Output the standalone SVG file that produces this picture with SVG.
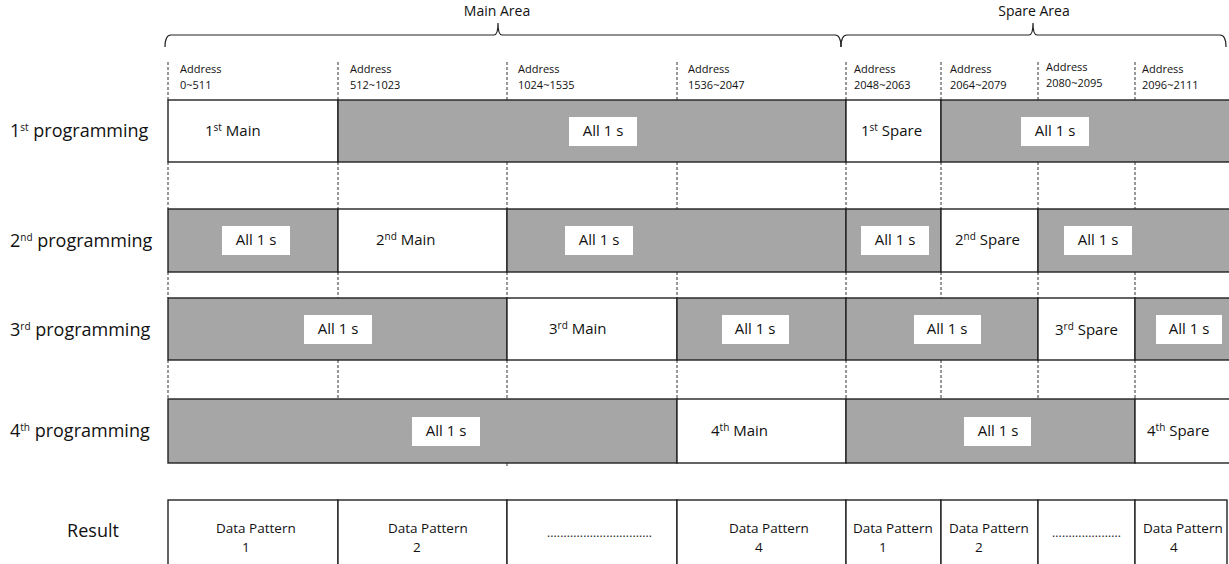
<svg xmlns="http://www.w3.org/2000/svg" width="1229" height="564" viewBox="0 0 1229 564">
<style>
text{font-family:"Open Sans","Noto Sans","Liberation Sans",sans-serif;fill:#111}
.hdr{font-size:14px}
.addr{font-size:11px}
.lbl{font-size:18px}
.cell{font-size:15px}
.res{font-size:13.5px}
.g{fill:#a6a6a6;stroke:#222;stroke-width:1.4}
.w{fill:#fff;stroke:#222;stroke-width:1.4}
.tag{fill:#fff}
.dash{stroke:#333;stroke-width:1;stroke-dasharray:3 2;fill:none}
.brace{fill:none;stroke:#222;stroke-width:1.2}
.sup{font-size:10px}
.dots{font-size:12px;fill:#222}
</style>
<rect width="1229" height="564" fill="#fff"/>

<g id="braces">
<path class="brace" d="M165,47 Q165,35 171,35 L494,35 Q498,35 498,23 Q498,35 502,35 L835,35 Q841,35 841,47"/>
<path class="brace" d="M841,47 Q841,35 847,35 L1029,35 Q1033,35 1033,23 Q1033,35 1037,35 L1220,35 Q1226,35 1226,47"/>
<text class="hdr" x="497" y="16" text-anchor="middle">Main Area</text>
<text class="hdr" x="1034" y="16" text-anchor="middle">Spare Area</text>
</g>

<g id="addresses" class="addr">
<text x="180" y="73">Address</text><text x="180" y="89">0~511</text>
<text x="350" y="73">Address</text><text x="350" y="89">512~1023</text>
<text x="518" y="73">Address</text><text x="518" y="89">1024~1535</text>
<text x="688" y="73">Address</text><text x="688" y="89">1536~2047</text>
<text x="854" y="73">Address</text><text x="854" y="89">2048~2063</text>
<text x="950" y="73">Address</text><text x="950" y="89">2064~2079</text>
<text x="1046" y="71">Address</text><text x="1046" y="87">2080~2095</text>
<text x="1142" y="73">Address</text><text x="1142" y="89">2096~2111</text>
</g>

<g id="connectors">
<g class="dash">
<path d="M168,62V100 M338,62V100 M507,62V100 M677,62V100 M846,62V100 M941,62V100 M1038,62V100 M1135,62V100"/>
<path d="M168,162V209 M338,162V209 M507,162V209 M677,162V209 M846,162V209 M941,162V209 M1038,162V209 M1135,162V209"/>
<path d="M168,272V298 M338,272V298 M507,272V298 M677,272V298 M846,272V298 M941,272V298 M1038,272V298 M1135,272V298"/>
<path d="M168,360V399 M338,360V399 M507,360V399 M677,360V399 M846,360V399 M941,360V399 M1038,360V399 M1135,360V399"/>
<path d="M507,463V468"/>
</g>
</g>

<g id="row-labels" class="lbl">
<text x="10" y="137">1<tspan class="sup" dy="-6">st</tspan><tspan dy="6"> programming</tspan></text>
<text x="10" y="247">2<tspan class="sup" dy="-6">nd</tspan><tspan dy="6"> programming</tspan></text>
<text x="10" y="336">3<tspan class="sup" dy="-6">rd</tspan><tspan dy="6"> programming</tspan></text>
<text x="10" y="437">4<tspan class="sup" dy="-6">th</tspan><tspan dy="6"> programming</tspan></text>
<text x="93" y="537" text-anchor="middle">Result</text>
</g>

<g id="row1" class="cell">
<g id="r1-main1"><rect class="w" x="168" y="100" width="170" height="62"/><text x="205" y="136">1<tspan class="sup" dy="-5">st</tspan><tspan dy="5"> Main</tspan></text></g>
<g id="r1-ones-a"><rect class="g" x="338" y="100" width="508" height="62"/><rect class="tag" x="569" y="117" width="68" height="29"/><text x="603" y="136" text-anchor="middle">All 1 s</text></g>
<g id="r1-spare1"><rect class="w" x="846" y="100" width="95" height="62"/><text x="861" y="136">1<tspan class="sup" dy="-5">st</tspan><tspan dy="5"> Spare</tspan></text></g>
<g id="r1-ones-b"><rect class="g" x="941" y="100" width="292" height="62"/><rect class="tag" x="1021" y="117" width="68" height="29"/><text x="1055" y="136" text-anchor="middle">All 1 s</text></g>
</g>

<g id="row2" class="cell">
<g id="r2-ones-a"><rect class="g" x="168" y="209" width="170" height="63"/><rect class="tag" x="222" y="226" width="68" height="29"/><text x="256" y="245" text-anchor="middle">All 1 s</text></g>
<g id="r2-main2"><rect class="w" x="338" y="209" width="169" height="63"/><text x="376" y="245">2<tspan class="sup" dy="-5">nd</tspan><tspan dy="5"> Main</tspan></text></g>
<g id="r2-ones-b"><rect class="g" x="507" y="209" width="339" height="63"/><rect class="tag" x="565" y="226" width="68" height="29"/><text x="599" y="245" text-anchor="middle">All 1 s</text></g>
<g id="r2-ones-c"><rect class="g" x="846" y="209" width="95" height="63"/><rect class="tag" x="861" y="226" width="68" height="29"/><text x="895" y="245" text-anchor="middle">All 1 s</text></g>
<g id="r2-spare2"><rect class="w" x="941" y="209" width="97" height="63"/><text x="955" y="245">2<tspan class="sup" dy="-5">nd</tspan><tspan dy="5"> Spare</tspan></text></g>
<g id="r2-ones-d"><rect class="g" x="1038" y="209" width="195" height="63"/><rect class="tag" x="1064" y="226" width="68" height="29"/><text x="1098" y="245" text-anchor="middle">All 1 s</text></g>
</g>

<g id="row3" class="cell">
<g id="r3-ones-a"><rect class="g" x="168" y="298" width="339" height="62"/><rect class="tag" x="304" y="315" width="68" height="29"/><text x="338" y="334" text-anchor="middle">All 1 s</text></g>
<g id="r3-main3"><rect class="w" x="507" y="298" width="170" height="62"/><text x="549" y="334">3<tspan class="sup" dy="-5">rd</tspan><tspan dy="5"> Main</tspan></text></g>
<g id="r3-ones-b"><rect class="g" x="677" y="298" width="169" height="62"/><rect class="tag" x="722" y="315" width="67" height="29"/><text x="755" y="334" text-anchor="middle">All 1 s</text></g>
<g id="r3-ones-c"><rect class="g" x="846" y="298" width="192" height="62"/><rect class="tag" x="914" y="315" width="67" height="29"/><text x="947" y="334" text-anchor="middle">All 1 s</text></g>
<g id="r3-spare3"><rect class="w" x="1038" y="298" width="97" height="62"/><text x="1055" y="335">3<tspan class="sup" dy="-5">rd</tspan><tspan dy="5"> Spare</tspan></text></g>
<g id="r3-ones-d"><rect class="g" x="1135" y="298" width="98" height="62"/><rect class="tag" x="1156" y="315" width="66" height="29"/><text x="1189" y="334" text-anchor="middle">All 1 s</text></g>
</g>

<g id="row4" class="cell">
<g id="r4-ones-a"><rect class="g" x="168" y="399" width="509" height="64"/><rect class="tag" x="412" y="417" width="68" height="29"/><text x="446" y="436" text-anchor="middle">All 1 s</text></g>
<g id="r4-main4"><rect class="w" x="677" y="399" width="169" height="64"/><text x="711" y="436">4<tspan class="sup" dy="-5">th</tspan><tspan dy="5"> Main</tspan></text></g>
<g id="r4-ones-b"><rect class="g" x="846" y="399" width="289" height="64"/><rect class="tag" x="964" y="417" width="67" height="29"/><text x="998" y="436" text-anchor="middle">All 1 s</text></g>
<g id="r4-spare4"><rect class="w" x="1135" y="399" width="98" height="64"/><text x="1147" y="436">4<tspan class="sup" dy="-5">th</tspan><tspan dy="5"> Spare</tspan></text></g>
</g>

<g id="result" class="res">
<g id="res-1"><rect class="w" x="168" y="500" width="170" height="70"/><text x="216" y="533">Data Pattern</text><text x="242" y="552">1</text></g>
<g id="res-2"><rect class="w" x="338" y="500" width="169" height="70"/><text x="388" y="533">Data Pattern</text><text x="413" y="552">2</text></g>
<g id="res-3"><rect class="w" x="507" y="500" width="170" height="70"/><text class="dots" x="547" y="537" textLength="105" lengthAdjust="spacing">................................</text></g>
<g id="res-4"><rect class="w" x="677" y="500" width="169" height="70"/><text x="729" y="533">Data Pattern</text><text x="755" y="552">4</text></g>
<g id="res-s1"><rect class="w" x="846" y="500" width="95" height="70"/><text x="853" y="533">Data Pattern</text><text x="879" y="552">1</text></g>
<g id="res-s2"><rect class="w" x="941" y="500" width="97" height="70"/><text x="949" y="533">Data Pattern</text><text x="975" y="552">2</text></g>
<g id="res-s3"><rect class="w" x="1038" y="500" width="97" height="70"/><text class="dots" x="1052" y="537" textLength="69" lengthAdjust="spacing">.....................</text></g>
<g id="res-s4"><rect class="w" x="1135" y="500" width="92" height="70"/><text x="1143" y="533">Data Pattern</text><text x="1170" y="552">4</text></g>
</g>
</svg>
